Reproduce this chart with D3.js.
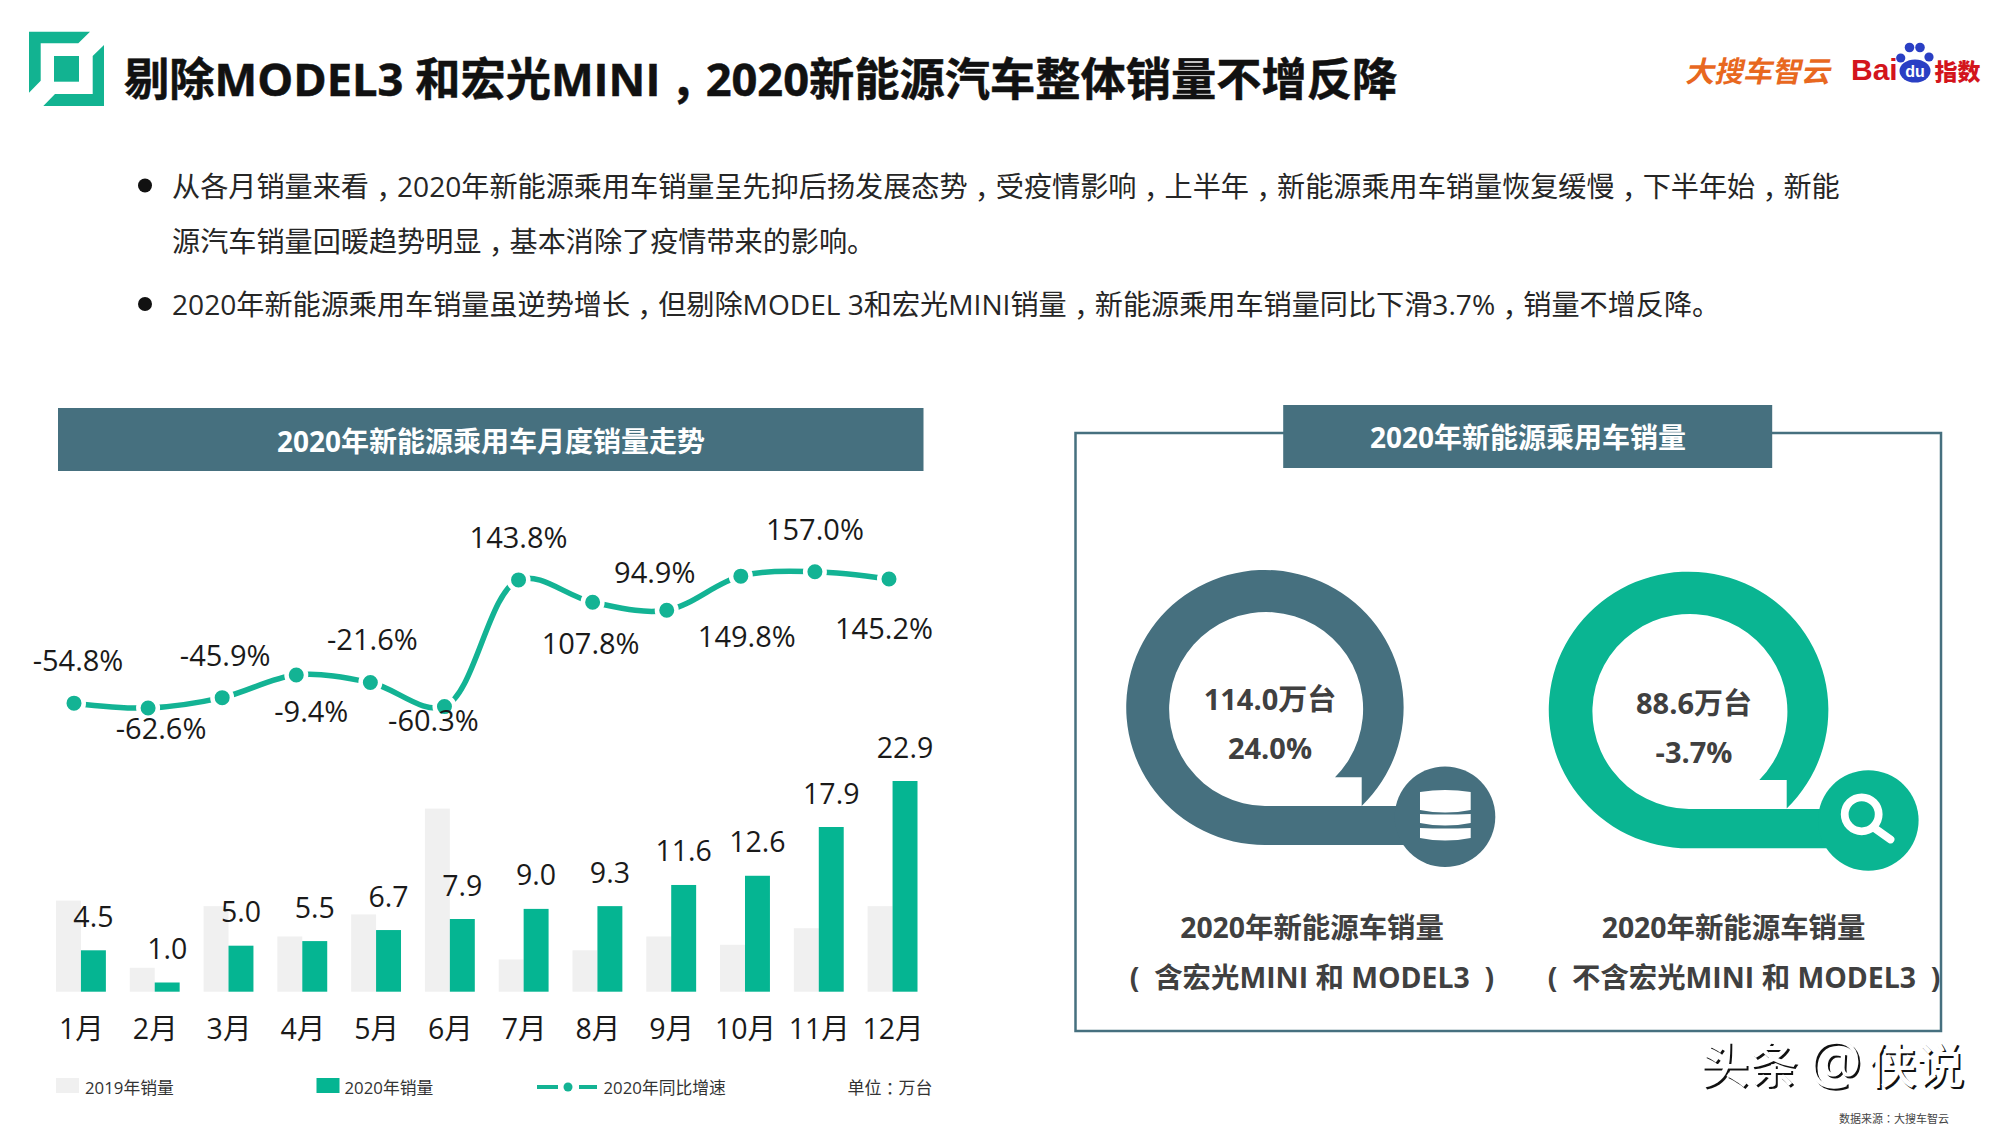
<!DOCTYPE html>
<html>
<head>
<meta charset="utf-8">
<script src="https://cdn.jsdelivr.net/npm/d3@7"></script>
<style>
  html, body { margin: 0; padding: 0; background: #fff; }
  svg { display: block; }
  text { font-family: "Open Sans", "Noto Sans CJK SC", sans-serif; }
  .mid-mark { font-family: "Noto Sans CJK TC", sans-serif; }
</style>
</head>
<body>
<div id="chart"></div>
<script>
const months = ["1月", "2月", "3月", "4月", "5月", "6月", "7月", "8月", "9月", "10月", "11月", "12月"];
const sales2019 = [9.9, 2.6, 9.3, 6.0, 8.4, 19.9, 3.5, 4.5, 6.0, 5.1, 6.9, 9.3];
const sales2020 = [4.5, 1.0, 5.0, 5.5, 6.7, 7.9, 9.0, 9.3, 11.6, 12.6, 17.9, 22.9];
const growth2020 = [-54.8, -62.6, -45.9, -9.4, -21.6, -60.3, 143.8, 107.8, 94.9, 149.8, 157.0, 145.2];
const legendNames = ["2019年销量", "2020年销量", "2020年同比增速"];

const bulletLines = [
  "从各月销量来看，2020年新能源乘用车销量呈先抑后扬发展态势，受疫情影响，上半年，新能源乘用车销量恢复缓慢，下半年始，新能",
  "源汽车销量回暖趋势明显，基本消除了疫情带来的影响。",
  "2020年新能源乘用车销量虽逆势增长，但剔除MODEL 3和宏光MINI销量，新能源乘用车销量同比下滑3.7%，销量不增反降。"
];

// label nudges around the growth points, they dodge the curve one by one
const growthLabelDx = [4, 13, 3, 15, 2, -11, 0, -2, -12, 6, 0, -5];
const growthLabelDy = [-44, 19, -43.5, 36, -44, 13, -43, 40, -39, 59, -43, 48];

const slate = "#46707f";
const green = "#05b592";
const pale = "#f0f0f0";
const ink = "#404040";

const svg = d3.select("#chart").append("svg")
  .attr("width", 2000)
  .attr("height", 1125)
  .attr("viewBox", "0 0 2000 1125");

// full-width comma and colon sit centred in the reference: the TC cut centres them,
// the comma then only has to drop back to the baseline
function setPunctuated(sel, str) {
  str.split(/([，：])/).forEach((part, i, parts) => {
    if (!part) return;
    const isMark = part === "，" || part === "：";
    const afterComma = i > 0 && parts[i - 1] === "，";
    sel.append("tspan")
      .attr("class", isMark ? "mid-mark" : null)
      .attr("dy", part === "，" ? "0.3em" : afterComma ? "-0.3em" : null)
      .text(part);
  });
}

function label(parent, x, y, str, size, opts = {}) {
  const t = parent.append("text")
    .attr("x", x)
    .attr("y", y)
    .attr("font-size", size)
    .attr("font-weight", opts.weight || 400)
    .attr("fill", opts.fill || "#1a1a1a")
    .attr("text-anchor", opts.anchor || "start")
    .attr("dominant-baseline", "central");
  setPunctuated(t, str);
  return t;
}

// ---- slide head
const head = svg.append("g");
head.selectAll("polygon")
  .data([
    "29,31.7 90,31.7 78.3,43.3 40.7,43.3 40.7,80.7 29,92.7",
    "104,45 104,106 43.3,106 55,94 92.7,94 92.7,56",
    "54,56 79,56 79,81.7 54,81.7"
  ])
  .join("polygon")
  .attr("points", d => d)
  .attr("fill", "#12b391");
label(head, 124, 78, "剔除MODEL3 和宏光MINI，2020新能源汽车整体销量不增反降", 45.25, { weight: 700, fill: "#111" })
  .attr("stroke", "#111")
  .attr("stroke-width", 0.5);

// logos
const brand = svg.append("g");
brand.append("text")
  .attr("transform", "translate(1685,82) skewX(-12)")
  .attr("font-size", 29)
  .attr("font-weight", 700)
  .attr("fill", "#e8681f")
  .text("大搜车智云");
brand.append("text")
  .attr("x", 1851).attr("y", 80)
  .attr("font-size", 30).attr("font-weight", 700)
  .attr("fill", "#d3151c")
  .style("font-family", "'Liberation Sans', sans-serif")
  .text("Bai");
brand.selectAll("circle")
  .data([[1900.7, 58, 4.6], [1909.5, 47.5, 4.8], [1920, 47.5, 4.8], [1929, 57, 4.6]])
  .join("circle")
  .attr("cx", d => d[0]).attr("cy", d => d[1]).attr("r", d => d[2])
  .attr("fill", "#2a3fc4");
brand.append("ellipse")
  .attr("cx", 1915).attr("cy", 71).attr("rx", 15.5).attr("ry", 11.5)
  .attr("fill", "#2a3fc4");
brand.append("text")
  .attr("x", 1915).attr("y", 77)
  .attr("text-anchor", "middle")
  .attr("font-size", 16).attr("font-weight", 700)
  .attr("fill", "#fff")
  .style("font-family", "'Liberation Sans', sans-serif")
  .text("du");
brand.append("text")
  .attr("x", 1934.5).attr("y", 79.5)
  .attr("font-size", 23).attr("font-weight", 900)
  .attr("fill", "#d3151c")
  .text("指数");

// ---- bullets
const bullets = svg.append("g");
bullets.selectAll("circle")
  .data([185.5, 304])
  .join("circle")
  .attr("cx", 145).attr("cy", d => d).attr("r", 7)
  .attr("fill", "#111");
[185.5, 240.5, 304].forEach((y, i) => label(bullets, 172, y, bulletLines[i], 28.13, { fill: "#262626" }));

// ---- left panel
const left = svg.append("g");
left.append("rect")
  .attr("x", 58).attr("y", 408).attr("width", 865.5).attr("height", 63)
  .attr("fill", slate);
label(left, 491, 440.5, "2020年新能源乘用车月度销量走势", 28, { weight: 700, fill: "#fff", anchor: "middle" });

const x = d3.scaleBand().domain(months).range([56, 917.5]).paddingInner(0.324).paddingOuter(0);
const xSeries = d3.scaleBand().domain(["2019", "2020"]).range([0, x.bandwidth()]);
const ySales = d3.scaleLinear().domain([0, 22.9]).range([991.7, 781]);

left.selectAll("rect.y2019")
  .data(sales2019)
  .join("rect")
  .attr("class", "y2019")
  .attr("x", (d, i) => x(months[i]) + xSeries("2019"))
  .attr("y", d => ySales(d))
  .attr("width", xSeries.bandwidth())
  .attr("height", d => ySales(0) - ySales(d))
  .attr("fill", pale);

left.selectAll("rect.y2020")
  .data(sales2020)
  .join("rect")
  .attr("class", "y2020")
  .attr("x", (d, i) => x(months[i]) + xSeries("2020"))
  .attr("y", d => ySales(d))
  .attr("width", xSeries.bandwidth())
  .attr("height", d => ySales(0) - ySales(d))
  .attr("fill", green);

left.selectAll("text.bar-value")
  .data(sales2020)
  .join("text")
  .attr("class", "bar-value")
  .attr("x", (d, i) => x(months[i]) + xSeries("2020") + xSeries.bandwidth() / 2)
  .attr("y", d => ySales(d) - 34.5)
  .attr("text-anchor", "middle")
  .attr("dominant-baseline", "central")
  .attr("font-size", 28.5)
  .attr("fill", "#1a1a1a")
  .text(d => d.toFixed(1));

const axis = left.append("g")
  .attr("transform", "translate(0.5,991.7)")
  .call(d3.axisBottom(x).tickSize(0).tickPadding(27));
axis.select(".domain").remove();
axis.selectAll("text")
  .attr("font-size", 28.5)
  .attr("fill", "#1a1a1a")
  .style("font-family", "'Open Sans', 'Noto Sans CJK SC', sans-serif");

// growth curve, same months but its own point scale
const xGrowth = d3.scalePoint().domain(months).range([74, 889]);
const yGrowth = d3.scaleLinear().domain([-62.6, 157]).range([708, 571.7]);
const growthLine = d3.line()
  .x((d, i) => xGrowth(months[i]))
  .y(d => yGrowth(d))
  .curve(d3.curveCatmullRom.alpha(0.5));

left.append("path")
  .attr("d", growthLine(growth2020))
  .attr("fill", "none")
  .attr("stroke", "#13b394")
  .attr("stroke-width", 5.5);

left.selectAll("circle.growth")
  .data(growth2020)
  .join("circle")
  .attr("class", "growth")
  .attr("cx", (d, i) => xGrowth(months[i]))
  .attr("cy", d => yGrowth(d))
  .attr("r", 9.75)
  .attr("fill", "#13b394")
  .attr("stroke", "#fff")
  .attr("stroke-width", 4.5);

left.selectAll("text.growth-value")
  .data(growth2020)
  .join("text")
  .attr("class", "growth-value")
  .attr("x", (d, i) => xGrowth(months[i]) + growthLabelDx[i])
  .attr("y", (d, i) => yGrowth(d) + growthLabelDy[i])
  .attr("text-anchor", "middle")
  .attr("dominant-baseline", "central")
  .attr("font-size", 29)
  .attr("fill", "#1a1a1a")
  .text(d => d.toFixed(1) + "%");

// legend
const legend = left.append("g");
legend.append("rect").attr("x", 56).attr("y", 1078).attr("width", 23).attr("height", 15).attr("fill", pale);
legend.append("rect").attr("x", 316.5).attr("y", 1078).attr("width", 23).attr("height", 15).attr("fill", green);
legend.selectAll("line")
  .data([[537, 558], [579, 597]])
  .join("line")
  .attr("x1", d => d[0]).attr("x2", d => d[1])
  .attr("y1", 1087).attr("y2", 1087)
  .attr("stroke", "#13b394").attr("stroke-width", 4);
legend.append("circle").attr("cx", 568).attr("cy", 1087).attr("r", 4.5).attr("fill", "#13b394");
label(legend, 85, 1087, legendNames[0], 16.8, { fill: "#333" });
label(legend, 344.5, 1087, legendNames[1], 16.8, { fill: "#333" });
label(legend, 603.5, 1087, legendNames[2], 16.8, { fill: "#333" });
label(legend, 932.5, 1087, "单位：万台", 17, { fill: "#333", anchor: "end" });

// ---- right panel
const right = svg.append("g");
right.append("rect")
  .attr("x", 1075.5).attr("y", 433).attr("width", 865.5).attr("height", 598)
  .attr("fill", "none")
  .attr("stroke", slate)
  .attr("stroke-width", 2.5);
right.append("rect")
  .attr("x", 1283.2).attr("y", 405).attr("width", 489).attr("height", 63)
  .attr("fill", slate);
label(right, 1528, 437, "2020年新能源乘用车销量", 28, { weight: 700, fill: "#fff", anchor: "middle" });

// speech-bubble ring with a tail running into the round badge
function bubblePath(b) {
  return `M${b.tipX},${b.tipY}`
    + `A${b.rx},${b.ry} 0 1 0 ${b.cx},${b.cy + b.ry}`
    + `L${b.badgeX},${b.cy + b.ry}L${b.badgeX},${b.inBottom}L${b.cx},${b.inBottom}`
    + `A${b.r},${b.r} 0 1 1 ${b.notchX},${b.notchY}`
    + `L${b.tipX},${b.notchY}Z`;
}

const rings = [
  { cx: 1265, cy: 707.5, rx: 138.7, ry: 137.5, r: 97, inBottom: 806, tipX: 1361.7, tipY: 806,
    notchX: 1335, notchY: 777.3, badgeX: 1445, badgeY: 816.7, fill: slate,
    value: "114.0万台", rate: "24.0%", textX: 1270, valueY: 698, rateY: 747,
    lineOne: "2020年新能源车销量", lineTwo: "(\u00a0\u00a0含宏光MINI 和 MODEL3\u00a0\u00a0)", oneX: 1312, twoX: 1312 },
  { cx: 1689, cy: 710, rx: 139.8, ry: 138.3, r: 97.5, inBottom: 809, tipX: 1786.7, tipY: 808.5,
    notchX: 1759.3, notchY: 780, badgeX: 1868.3, badgeY: 820.5, fill: "#0ab592",
    value: "88.6万台", rate: "-3.7%", textX: 1694, valueY: 702, rateY: 751,
    lineOne: "2020年新能源车销量", lineTwo: "(\u00a0\u00a0不含宏光MINI 和 MODEL3\u00a0\u00a0)", oneX: 1733.5, twoX: 1744 }
];

rings.forEach(b => {
  const g = right.append("g");
  g.append("path").attr("d", bubblePath(b)).attr("fill", b.fill);
  g.append("circle").attr("cx", b.badgeX).attr("cy", b.badgeY).attr("r", 50.3).attr("fill", b.fill);
  label(g, b.textX, b.valueY, b.value, 29, { weight: 700, fill: ink, anchor: "middle" });
  label(g, b.textX, b.rateY, b.rate, 29, { weight: 700, fill: ink, anchor: "middle" });
  label(g, b.oneX, 927, b.lineOne, 28.4, { weight: 700, fill: ink, anchor: "middle" });
  label(g, b.twoX, 977, b.lineTwo, 28.4, { weight: 700, fill: ink, anchor: "middle" });
});

// database glyph
const disk = right.append("g").attr("fill", "#fff");
[[792, 810, 790, 813], [814, 823, 817, 826], [828, 838, 831, 841]].forEach(d => {
  disk.append("path")
    .attr("d", `M1420,${d[0]}Q1445,${d[2] - 2} 1470.7,${d[0]}L1470.7,${d[1]}Q1445,${d[3] + 2} 1420,${d[1]}Z`);
});

// magnifier glyph
const lens = right.append("g").attr("fill", "none").attr("stroke", "#fff").attr("stroke-width", 7.8);
lens.append("circle").attr("cx", 1861.7).attr("cy", 814.3).attr("r", 17);
lens.append("line")
  .attr("x1", 1875).attr("y1", 828.5)
  .attr("x2", 1890.5).attr("y2", 839.5)
  .attr("stroke-linecap", "round");

// ---- watermark and source, the emboss is a dark copy under a white one
const markParts = [
  { str: "头条", x: 1700, size: 49 },
  { str: "@", x: 1808, size: 60 },
  { str: "侠说", x: 1868, size: 48 }
];
const mark = svg.append("g").attr("font-weight", 500);
mark.append("g").selectAll("text")
  .data(markParts)
  .join("text")
  .attr("x", d => d.x + 2).attr("y", 1085)
  .attr("font-size", d => d.size)
  .attr("fill", "#111")
  .text(d => d.str);
mark.append("g").selectAll("text")
  .data(markParts)
  .join("text")
  .attr("x", d => d.x).attr("y", 1083)
  .attr("font-size", d => d.size)
  .attr("fill", "#fff")
  .text(d => d.str);
label(svg, 1839, 1118, "数据来源：大搜车智云", 11, { fill: "#444" });
</script>
</body>
</html>
